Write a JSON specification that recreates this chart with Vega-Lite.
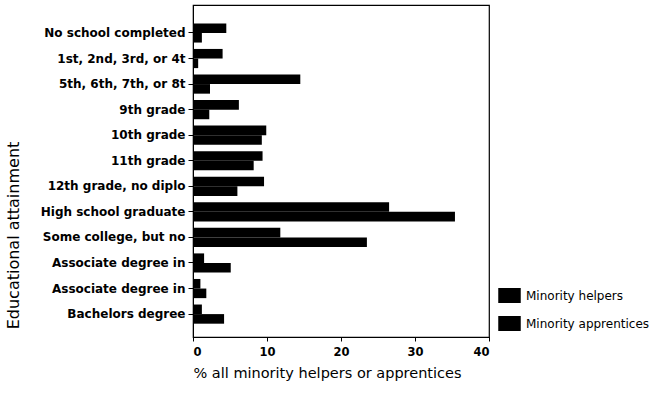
{
  "$schema": "https://vega.github.io/schema/vega-lite/v6.json",
  "width": 296,
  "height": 332,
  "autosize": "none",
  "padding": {"left": 193, "top": 5, "right": 177, "bottom": 76},
  "background": "white",
  "config": {
    "font": "DejaVu Sans",
    "view": {"stroke": "black", "strokeWidth": 1.2},
    "axis": {"domainColor": "black", "tickColor": "black", "labelColor": "black", "titleColor": "black", "grid": false, "labelFont": "DejaVu Sans", "titleFont": "DejaVu Sans"},
    "legend": {"labelFont": "DejaVu Sans"}
  },
  "data": {
    "values": [
      {"attainment": "No school completed", "series": "Minority helpers", "pct": 4.5},
      {"attainment": "No school completed", "series": "Minority apprentices", "pct": 1.2},
      {"attainment": "1st, 2nd, 3rd, or 4th grade", "series": "Minority helpers", "pct": 4.0},
      {"attainment": "1st, 2nd, 3rd, or 4th grade", "series": "Minority apprentices", "pct": 0.7},
      {"attainment": "5th, 6th, 7th, or 8th grade", "series": "Minority helpers", "pct": 14.5},
      {"attainment": "5th, 6th, 7th, or 8th grade", "series": "Minority apprentices", "pct": 2.3},
      {"attainment": "9th grade", "series": "Minority helpers", "pct": 6.2},
      {"attainment": "9th grade", "series": "Minority apprentices", "pct": 2.2},
      {"attainment": "10th grade", "series": "Minority helpers", "pct": 9.9},
      {"attainment": "10th grade", "series": "Minority apprentices", "pct": 9.3},
      {"attainment": "11th grade", "series": "Minority helpers", "pct": 9.4},
      {"attainment": "11th grade", "series": "Minority apprentices", "pct": 8.2},
      {"attainment": "12th grade, no diploma", "series": "Minority helpers", "pct": 9.6},
      {"attainment": "12th grade, no diploma", "series": "Minority apprentices", "pct": 6.0},
      {"attainment": "High school graduate", "series": "Minority helpers", "pct": 26.5},
      {"attainment": "High school graduate", "series": "Minority apprentices", "pct": 35.4},
      {"attainment": "Some college, but no degree", "series": "Minority helpers", "pct": 11.8},
      {"attainment": "Some college, but no degree", "series": "Minority apprentices", "pct": 23.5},
      {"attainment": "Associate degree in occupational program", "series": "Minority helpers", "pct": 1.5},
      {"attainment": "Associate degree in occupational program", "series": "Minority apprentices", "pct": 5.1},
      {"attainment": "Associate degree in academic program", "series": "Minority helpers", "pct": 1.0},
      {"attainment": "Associate degree in academic program", "series": "Minority apprentices", "pct": 1.8},
      {"attainment": "Bachelors degree", "series": "Minority helpers", "pct": 1.2},
      {"attainment": "Bachelors degree", "series": "Minority apprentices", "pct": 4.2}
    ]
  },
  "mark": {"type": "bar", "cornerRadius": 0},
  "encoding": {
    "y": {
      "field": "attainment",
      "type": "nominal",
      "sort": null,
      "scale": {"paddingInner": 0.25, "paddingOuter": 0.62, "align": 0.58},
      "axis": {
        "title": "Educational attainment",
        "titleFontSize": 16,
        "titleFontWeight": "normal",
        "titleAngle": -90,
        "titleAlign": "center",
        "titleBaseline": "alphabetic",
        "titleX": -175,
        "titleY": 230,
        "labelExpr": "trim(substring(datum.label, 0, 20))",
        "labelFontSize": 12,
        "labelFontWeight": "bold",
        "labelPadding": 3,
        "tickSize": 5,
        "labelLimit": 300
      }
    },
    "yOffset": {"field": "series", "type": "nominal", "sort": ["Minority helpers", "Minority apprentices"]},
    "x": {
      "field": "pct",
      "type": "quantitative",
      "scale": {"domain": [0, 40], "nice": false},
      "axis": {
        "title": "% all minority helpers or apprentices",
        "titleFontSize": 14.5,
        "titleFontWeight": "normal",
        "titleX": 134,
        "titlePadding": 9,
        "values": [0, 10, 20, 30, 40],
        "labelFontSize": 11.5,
        "labelFontWeight": "bold",
        "tickSize": 4,
        "labelPadding": 5
      }
    },
    "color": {
      "field": "series",
      "type": "nominal",
      "sort": ["Minority helpers", "Minority apprentices"],
      "scale": {"range": ["black", "black"]},
      "legend": {
        "title": null,
        "orient": "none",
        "legendX": 309,
        "legendY": 283,
        "symbolType": "M-1.5,-1H1.5V1H-1.5Z",
        "symbolSize": 225,
        "symbolStrokeWidth": 0,
        "labelFontSize": 12,
        "labelFontWeight": "normal",
        "labelOffset": 9,
        "rowPadding": 13,
        "labelColor": "black",
        "labelLimit": 300
      }
    }
  }
}
